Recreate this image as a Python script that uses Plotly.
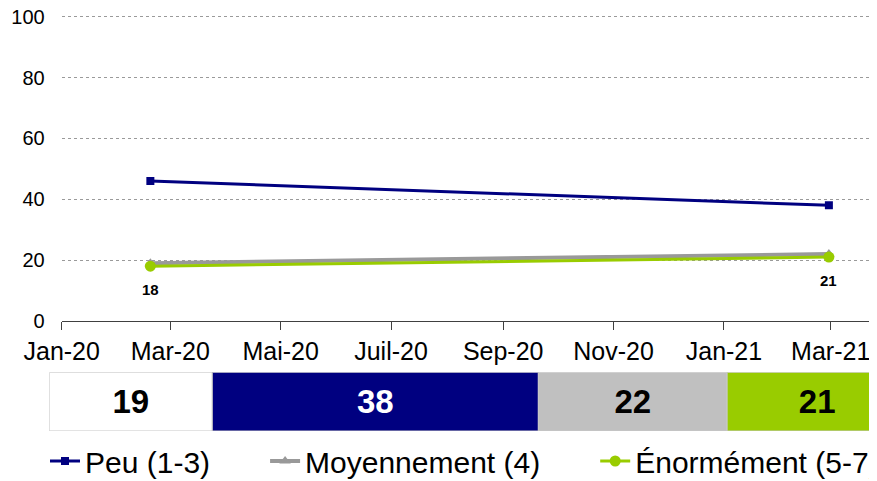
import plotly.graph_objects as go
import datetime as _dt

# ---- data ----
dates = ["2020-02-19", "2021-02-28"]
peu = [46, 38]
moyen = [19, 22]
enorme = [18, 21]
series_names = ["Peu (1-3)", "Moyennement (4)", "Énormément (5-7)"]

bar_values = [19, 38, 22, 21]
bar_colors = ["#ffffff", "#000080", "#c0c0c0", "#99cc00"]
bar_text_colors = ["#000000", "#ffffff", "#000000", "#000000"]

tick_vals = ["2020-01-01", "2020-03-01", "2020-05-01", "2020-07-01",
             "2020-09-01", "2020-11-01", "2021-01-01", "2021-03-01"]
tick_text = ["Jan-20", "Mar-20", "Mai-20", "Juil-20", "Sep-20", "Nov-20", "Jan-21", "Mar-21"]
y_ticks = [0, 20, 40, 60, 80, 100]

W, H = 877, 481
OFF = 8  # page body margin offset
FONT = "Liberation Sans, Arial, sans-serif"
PAD = "\u00a0" * 6

fig = go.Figure()

fig.add_trace(go.Scatter(
    x=dates, y=peu, name=series_names[0] + PAD, mode="lines+markers",
    line=dict(color="#000080", width=3),
    marker=dict(symbol="square", size=8, color="#000080"),
    xaxis="x", yaxis="y"))
fig.add_trace(go.Scatter(
    x=dates, y=moyen, name=series_names[1] + PAD, mode="lines+markers",
    line=dict(color="#999999", width=4),
    marker=dict(symbol="triangle-up", size=10, color="#999999"),
    xaxis="x", yaxis="y"))
fig.add_trace(go.Scatter(
    x=dates, y=enorme, name=series_names[2], mode="lines+markers",
    line=dict(color="#99cc00", width=3),
    marker=dict(symbol="circle", size=11, color="#99cc00"),
    xaxis="x", yaxis="y"))

for d, v in zip(dates, enorme):
    fig.add_annotation(x=d, y=v, xref="x", yref="y", text="<b>%d</b>" % v,
                       showarrow=False, yshift=-23,
                       font=dict(family=FONT, size=15, color="#000000"))

# stacked horizontal bar
bases = []
acc = 0
for v in bar_values:
    bases.append(acc)
    acc += v
fig.add_trace(go.Bar(
    x=bar_values, base=bases, y=[0] * len(bar_values), orientation="h",
    width=1, marker=dict(color=bar_colors, line=dict(color="#c8c8c8", width=1)),
    text=[str(v) for v in bar_values], textposition="inside",
    insidetextanchor="middle", textangle=0, constraintext="none",
    textfont=dict(family=FONT, size=33, color=bar_text_colors, weight="bold"),
    showlegend=False, hoverinfo="skip", xaxis="x2", yaxis="y2"))

# geometry (reference pixel positions, shifted by page offset)
x_left = 61.7 - OFF
px_per_day = 769 / 425.0
end_days = (W + OFF - 61.7) / px_per_day
x_end = (_dt.datetime(2020, 1, 1) + _dt.timedelta(days=end_days)).strftime("%Y-%m-%d %H:%M")

y0_px, y100_px = 321 - OFF, 16.7 - OFF
y_top_val = 101.0
y_top_px = y0_px - y_top_val * (y0_px - y100_px) / 100.0
bar_left_px = 49.3 - OFF
bar_unit_px = 8.58
bar_top, bar_bot = 372.3 - OFF, 431 - OFF

fig.update_layout(
    width=W, height=H,
    margin=dict(l=0, r=0, t=0, b=0, autoexpand=False),
    paper_bgcolor="white", plot_bgcolor="white",
    font=dict(family=FONT, color="#000000"),
    xaxis=dict(domain=[x_left / W, 1], range=["2020-01-01", x_end], type="date",
               tickvals=tick_vals, ticktext=tick_text, showgrid=False,
               showline=True, linecolor="#404040", linewidth=1,
               ticks="outside", ticklen=8, tickcolor="#404040",
               tickfont=dict(size=25, family=FONT, color="#000000"),
               zeroline=False, anchor="y"),
    yaxis=dict(domain=[1 - y0_px / H, 1 - y_top_px / H], range=[0, y_top_val],
               tickvals=y_ticks, showgrid=True, gridcolor="#9a9a9a", griddash="dot",
               gridwidth=1, zeroline=False, showline=False, ticks="",
               ticklabelstandoff=16, ticklabeloverflow="allow",
               tickfont=dict(size=20, family=FONT, color="#000000"), anchor="x"),
    xaxis2=dict(domain=[bar_left_px / W, 1],
                range=[0, (W - bar_left_px) / bar_unit_px],
                visible=False, anchor="y2"),
    yaxis2=dict(domain=[1 - bar_bot / H, 1 - bar_top / H], range=[-0.5, 0.5],
                visible=False, anchor="x2"),
    barmode="overlay",
    showlegend=True,
    legend=dict(orientation="h", x=(45 - OFF) / W, xanchor="left", y=1 - (461 - OFF) / H,
                yanchor="middle", font=dict(size=30, family=FONT, color="#000000"),
                bgcolor="rgba(0,0,0,0)", itemclick=False, itemdoubleclick=False),
)

fig.write_html("out.html")
